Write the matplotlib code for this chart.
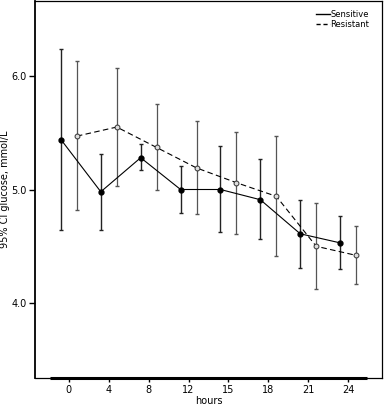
import matplotlib
matplotlib.use("Agg")
import matplotlib.pyplot as plt
from matplotlib.lines import Line2D

hours = ["0", "4", "8", "12", "15", "18", "21", "24"]
sens_mean = [5.44, 4.98, 5.28, 5.00, 5.00, 4.91, 4.61, 4.53]
sens_hi = [6.24, 5.31, 5.40, 5.21, 5.38, 5.27, 4.91, 4.77]
sens_lo = [4.64, 4.64, 5.17, 4.79, 4.63, 4.56, 4.31, 4.30]
res_mean = [5.47, 5.55, 5.37, 5.19, 5.06, 4.94, 4.50, 4.42]
res_hi = [6.13, 6.07, 5.75, 5.60, 5.51, 5.47, 4.88, 4.68]
res_lo = [4.82, 5.03, 5.00, 4.78, 4.61, 4.41, 4.12, 4.17]

fig = plt.figure(figsize=(3.86, 4.08), dpi=100)
ax = fig.add_axes([35/386, 30/408, 347/386, 377/408])

x = list(range(len(hours)))
xs = [i - 0.2 for i in x]
xr = [i + 0.2 for i in x]

ax.errorbar(xs, sens_mean,
            yerr=[[m - l for m, l in zip(sens_mean, sens_lo)],
                  [h - m for m, h in zip(sens_mean, sens_hi)]],
            fmt='none', ecolor='#222222', elinewidth=1.0, capsize=1.5, capthick=1.0)
ax.errorbar(xr, res_mean,
            yerr=[[m - l for m, l in zip(res_mean, res_lo)],
                  [h - m for m, h in zip(res_mean, res_hi)]],
            fmt='none', ecolor='#555555', elinewidth=0.9, capsize=1.5, capthick=1.0)
ax.plot(xs, sens_mean, '-', color='black', lw=0.8, marker='o', ms=3.5,
        mfc='black', mec='black')
ax.plot(xr, res_mean, '--', color='black', lw=0.8, dashes=(5, 3), marker='o', ms=3.5,
        mfc='#dddddd', mec='#333333', mew=0.7)

ax.set_xlim(-0.85, 7.85)
ax.set_ylim(3.34, 6.66)
ax.set_xticks(x)
ax.set_xticklabels(hours)
ax.set_yticks([4.0, 5.0, 6.0])
ax.set_yticklabels(["4.0", "5.0", "6.0"])
ax.tick_params(axis='both', direction='out', length=3, width=1, labelsize=7, pad=2)
ax.tick_params(axis='y', length=4)
ax.set_xlabel("hours", fontsize=7, labelpad=1)
ax.set_ylabel("95% CI glucose, mmol/L", fontsize=7)
ax.yaxis.set_label_coords(-0.072, 0.5)
for s in ax.spines.values():
    s.set_linewidth(0.9)
ax.spines['left'].set_linewidth(1.3)
ax.plot([-0.475, 7.475], [3.34, 3.34], color='black', lw=2.2, clip_on=False,
        solid_capstyle='butt', transform=ax.transData)

handles = [Line2D([0], [0], color='black', lw=1.0),
           Line2D([0], [0], color='black', lw=1.0, ls='--', dashes=(3, 2))]
ax.legend(handles, ["Sensitive", "Resistant"], loc='upper right', frameon=False,
          fontsize=6, handlelength=1.6, handletextpad=0.1, labelspacing=0.1,
          borderaxespad=0.5, bbox_to_anchor=(0.985, 0.995))

fig.savefig("out.png", dpi=100)
